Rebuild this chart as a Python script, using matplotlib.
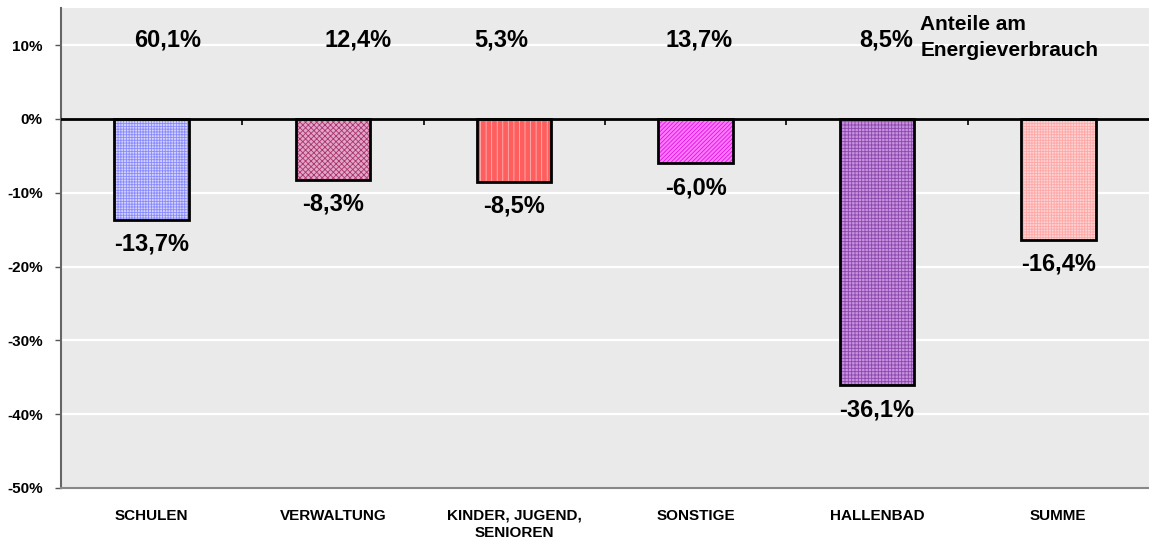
import matplotlib.pyplot as plt

plt.rcParams['font.family'] = ['Liberation Sans', 'DejaVu Sans']
plt.rcParams['hatch.linewidth'] = 0.6

categories = ['SCHULEN', 'VERWALTUNG', 'KINDER, JUGEND,\nSENIOREN', 'SONSTIGE', 'HALLENBAD', 'SUMME']
changes = [-13.7, -8.3, -8.5, -6.0, -36.1, -16.4]
shares = [60.1, 12.4, 5.3, 13.7, 8.5]
share_note = 'Anteile am\nEnergieverbrauch'
yticks = [10, 0, -10, -20, -30, -40, -50]

# bar look: face colour, hatch colour, hatch
faces = ['#d4d4ff', '#e2a6c6', '#ff5e5e', '#ff7aff', '#c890e0', '#ffd2d2']
hatch_cols = ['#8a8aff', '#a8346e', '#ffb4b4', '#e010e0', '#8a48aa', '#ffa8a8']
hatches = ['++++++', 'xxxxxx', '|||', '////////', '+++++', '++++++']
share_dx = [0.09, 0.14, -0.07, 0.02, 0.05]

fig = plt.figure(figsize=(11.49, 5.41), dpi=100)
ax = fig.add_axes([0.053, 0.098, 0.947, 0.887])
ax.set_facecolor('#eaeaea')

x = list(range(len(categories)))
ax.set_xlim(-0.5, len(categories) - 0.5)
ax.set_ylim(-50, 15)

for v in yticks:
    if v not in (0, -50):
        ax.axhline(v, color='white', lw=1.6, zorder=1)

ax.bar(x, changes, width=0.41, color=faces, edgecolor=hatch_cols, hatch=hatches, lw=0, zorder=2)
ax.bar(x, changes, width=0.41, fill=False, edgecolor='black', lw=2, zorder=3)

ax.axhline(0, color='black', lw=2, zorder=4)
ax.vlines([i + 0.5 for i in x[:-1]], -0.8, 0, color='black', lw=1.2, zorder=4)

for i, v in enumerate(changes):
    ax.text(i, v - 3.3, f'{v:.1f}%'.replace('.', ','), ha='center', va='center',
            fontsize=17, fontweight='bold', zorder=5)

for i, v in enumerate(shares):
    ax.text(i + share_dx[i], 10.7, f'{v:.1f}%'.replace('.', ','), ha='center', va='center',
            fontsize=17, fontweight='bold', zorder=5)
ax.text(4.24, 11.0, share_note, ha='left', va='center', fontsize=15,
        fontweight='bold', linespacing=1.45, zorder=5)

ax.set_yticks(yticks)
ax.set_yticklabels([f'{v}%' for v in yticks], fontsize=11, fontweight='bold')
ax.set_xticks(x)
ax.set_xticklabels(categories, fontsize=11, fontweight='bold', va='top', linespacing=1.3)
ax.tick_params(axis='x', length=0, pad=15)
ax.tick_params(axis='y', length=4, width=1, color='#555555', pad=9)

for s in ['top', 'right']:
    ax.spines[s].set_visible(False)
ax.spines['left'].set_color('#666666')
ax.spines['left'].set_linewidth(1.5)
ax.spines['bottom'].set_color('#888888')
ax.spines['bottom'].set_linewidth(1.5)

fig.savefig('out.png', dpi=100)
